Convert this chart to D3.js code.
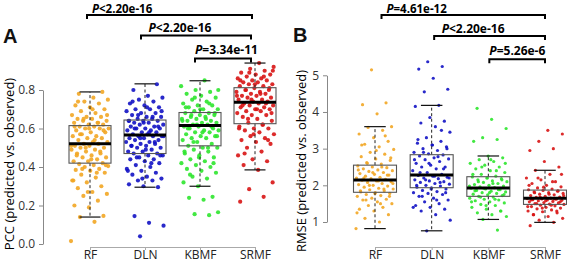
<!DOCTYPE html>
<html><head><meta charset="utf-8">
<script src="https://cdn.jsdelivr.net/npm/d3@7"></script>
<style>
html,body{margin:0;padding:0;background:#fff;}
svg{display:block;}
text{font-family:"Open Sans",sans-serif;}
</style></head>
<body>
<svg id="chart" width="567" height="262"></svg>
<script>
// ---------------- DATA ----------------
const categories = ["RF","DLN","KBMF","SRMF"];
const colors = ["#f2a623","#1212c4","#2ee62e","#d81414"];

const pccTicks = [0.0,0.2,0.4,0.6,0.8];
const rmseTicks = [1,2,3,4,5];

// box statistics
const pccQ1     = [0.420,0.470,0.510,0.625];
const pccMedian = [0.521,0.566,0.615,0.736];
const pccQ3     = [0.615,0.644,0.683,0.812];
const pccLow    = [0.140,0.295,0.300,0.385];
const pccHigh   = [0.790,0.832,0.848,0.940];

const rmseQ1     = [1.81,1.935,1.70,1.48];
const rmseMedian = [2.145,2.28,1.93,1.645];
const rmseQ3     = [2.55,2.835,2.235,1.87];
const rmseLow    = [0.82,0.76,1.07,0.99];
const rmseHigh   = [3.60,4.18,2.80,2.41];

// individual points
const pccRF = [0.015,0.115,0.14,0.146,0.19,0.2,0.225,0.25,0.26,0.27,0.29,0.3,0.32,0.33,0.345,0.36,0.37,0.38,0.385,0.39,0.40,0.405,0.41,0.415,
 0.42,0.43,0.43,0.44,0.45,0.45,0.46,0.47,0.47,0.48,0.49,0.49,0.50,0.50,0.51,0.51,0.52,0.52,
 0.53,0.53,0.54,0.55,0.55,0.56,0.56,0.57,0.58,0.58,0.59,0.60,0.60,0.60,0.61,0.61,0.62,
 0.62,0.63,0.63,0.64,0.64,0.65,0.65,0.66,0.66,0.67,0.68,0.69,0.70,0.71,0.72,0.73,0.74,0.75,0.76,0.78,0.79,
 0.27,0.33,0.37,0.39,0.41,0.44,0.46,0.48,0.50,0.51,0.54,0.57,0.59,0.60,0.61,0.63,0.65,0.67,0.70,0.74];
const pccDLN = [0.04,0.095,0.11,0.145,0.295,0.30,0.31,0.33,0.33,0.34,0.35,0.36,0.37,0.38,0.39,0.40,0.41,0.42,0.43,0.44,0.44,0.45,0.46,0.46,0.47,
 0.47,0.48,0.48,0.49,0.50,0.50,0.51,0.51,0.52,0.52,0.53,0.53,0.54,0.54,0.55,0.55,0.56,0.56,0.56,
 0.57,0.57,0.58,0.58,0.59,0.59,0.60,0.60,0.60,0.61,0.61,0.62,0.62,0.63,0.63,0.64,0.64,0.64,
 0.65,0.65,0.66,0.66,0.67,0.68,0.68,0.69,0.70,0.70,0.71,0.72,0.73,0.74,0.75,0.76,0.77,0.80,0.83,
 0.34,0.38,0.42,0.45,0.46,0.49,0.51,0.53,0.55,0.56,0.58,0.60,0.61,0.63,0.64,0.66,0.67,0.69,0.71,0.74];
const pccKBMF = [0.15,0.155,0.165,0.23,0.24,0.245,0.30,0.32,0.34,0.35,0.37,0.38,0.39,0.40,0.41,0.42,0.43,0.44,0.45,0.46,0.47,0.48,0.49,0.50,0.50,
 0.51,0.52,0.53,0.54,0.55,0.55,0.56,0.56,0.57,0.58,0.58,0.59,0.59,0.60,0.60,0.61,0.61,
 0.62,0.62,0.63,0.63,0.64,0.64,0.65,0.65,0.66,0.66,0.67,0.67,0.68,0.68,
 0.69,0.70,0.70,0.71,0.72,0.72,0.73,0.74,0.75,0.76,0.77,0.78,0.79,0.80,0.82,0.85,
 0.36,0.42,0.45,0.48,0.50,0.53,0.56,0.58,0.60,0.61,0.62,0.64,0.65,0.67,0.68,0.70,0.71,0.73,0.76,0.80];
const pccSRMF = [0.22,0.245,0.285,0.32,0.385,0.41,0.43,0.44,0.46,0.48,0.50,0.52,0.53,0.54,0.55,0.56,0.57,0.58,0.59,0.60,0.60,0.61,0.62,
 0.63,0.64,0.65,0.66,0.67,0.67,0.68,0.69,0.69,0.70,0.70,0.71,0.71,0.72,0.72,0.73,0.73,
 0.74,0.74,0.75,0.75,0.76,0.76,0.77,0.77,0.78,0.78,0.79,0.79,0.80,0.80,0.81,
 0.82,0.82,0.83,0.83,0.84,0.84,0.85,0.85,0.86,0.86,0.87,0.88,0.88,0.89,0.90,0.91,0.92,0.94,
 0.47,0.54,0.57,0.60,0.62,0.65,0.68,0.70,0.72,0.73,0.75,0.77,0.78,0.80,0.81,0.83,0.85,0.87,0.89,0.90];

const rmseRF = [0.82,1.0,1.1,1.2,1.3,1.35,1.4,1.45,1.5,1.55,1.6,1.62,1.65,1.7,1.72,1.75,1.78,1.8,
 1.82,1.85,1.88,1.9,1.92,1.95,1.98,2.0,2.02,2.05,2.08,2.1,2.12,2.14,
 2.16,2.18,2.2,2.22,2.25,2.28,2.3,2.32,2.35,2.38,2.4,2.42,2.45,2.48,2.5,2.53,
 2.58,2.62,2.68,2.72,2.78,2.85,2.9,2.98,3.05,3.12,3.2,3.3,3.4,3.5,3.58,3.6,3.95,4.2,4.25,5.15,
 1.25,1.5,1.6,1.7,1.78,1.85,1.9,2.0,2.05,2.12,2.2,2.28,2.35,2.42,2.5,2.6,2.75,2.95,3.1,3.35];
const rmseDLN = [0.76,1.05,1.2,1.3,1.35,1.4,1.45,1.5,1.55,1.6,1.65,1.7,1.75,1.78,1.8,1.83,1.86,1.9,1.93,
 1.95,1.98,2.0,2.03,2.05,2.08,2.1,2.12,2.15,2.18,2.2,2.22,2.25,2.27,
 2.3,2.35,2.4,2.45,2.5,2.5,2.55,2.6,2.65,2.7,2.72,2.75,2.8,2.83,
 2.86,2.9,2.95,3.0,3.05,3.1,3.15,3.2,3.3,3.45,3.6,3.7,3.75,3.85,4.15,4.18,4.55,4.62,4.92,5.17,5.24,5.37,
 1.4,1.6,1.7,1.8,1.9,2.0,2.08,2.15,2.2,2.25,2.35,2.45,2.6,2.7,2.78,2.9,3.0,3.1,3.25,3.5];
const rmseKBMF = [0.78,1.07,1.15,1.2,1.25,1.3,1.35,1.4,1.45,1.48,1.52,1.55,1.58,1.6,1.62,1.65,1.68,
 1.7,1.72,1.74,1.76,1.78,1.8,1.82,1.84,1.86,1.88,1.9,1.92,
 1.94,1.96,1.98,2.0,2.02,2.05,2.08,2.1,2.12,2.15,2.18,2.2,2.23,
 2.25,2.3,2.35,2.4,2.45,2.5,2.55,2.6,2.65,2.7,2.75,2.8,3.2,3.25,3.3,3.55,3.8,4.1,
 1.3,1.45,1.55,1.62,1.68,1.75,1.8,1.85,1.88,1.92,1.98,2.05,2.1,2.15,2.2,2.3,2.4,2.5,2.6,2.7];
const rmseSRMF = [0.9,0.99,1.05,1.1,1.15,1.2,1.25,1.28,1.3,1.33,1.36,1.38,1.4,1.42,1.44,1.46,1.48,
 1.49,1.5,1.52,1.53,1.55,1.56,1.58,1.59,1.6,1.61,1.62,1.63,1.64,
 1.65,1.67,1.68,1.7,1.72,1.74,1.76,1.78,1.8,1.82,1.84,1.86,
 1.88,1.9,1.93,1.96,2.0,2.05,2.1,2.15,2.2,2.3,2.41,2.5,2.65,2.95,3.0,3.2,3.4,3.5,
 1.2,1.3,1.38,1.42,1.46,1.5,1.55,1.58,1.6,1.63,1.68,1.72,1.76,1.8,1.85,1.95,2.0,2.1,2.2,2.3];

// significance comparisons
const pccPairs  = [["RF","SRMF"],["DLN","SRMF"],["KBMF","SRMF"]];
const pccPText  = ["<2.20e-16","<2.20e-16","=3.34e-11"];
const rmsePairs = [["RF","SRMF"],["DLN","SRMF"],["KBMF","SRMF"]];
const rmsePText = ["=4.61e-12","<2.20e-16","=5.26e-6"];

// ---------------- DRAW ----------------
const svg = d3.select("#chart");

function panel(cfg){
  const g = svg.append("g");
  const x = d3.scalePoint().domain(categories).range(cfg.xRange);
  const y = d3.scaleLinear().domain(cfg.yDomain).range(cfg.yRange);
  const boxW = cfg.boxW;

  // y axis
  const ya = g.append("g").attr("transform",`translate(${cfg.yAxisX},0)`)
    .call(d3.axisLeft(y).tickValues(cfg.ticks).tickFormat(cfg.fmt).tickSize(4).tickSizeOuter(0).tickPadding(4));
  ya.select(".domain").attr("stroke","#888");
  ya.selectAll(".tick line").attr("stroke","#888");
  ya.selectAll(".tick text").attr("fill","#333").style("font-size","12px").style("font-family","Open Sans");

  // x axis
  const xa = g.append("g").attr("transform",`translate(0,${cfg.xAxisY})`)
    .call(d3.axisBottom(x).tickSize(3).tickSizeOuter(0).tickPadding(0));
  xa.select(".domain").attr("stroke","#aaa");
  xa.selectAll(".tick line").attr("stroke","#aaa");
  xa.selectAll(".tick text").attr("fill","#222").style("font-size","12px").style("font-family","Open Sans");

  // y title
  g.append("text").attr("transform",`translate(${cfg.titleX},${cfg.titleY}) rotate(-90)`)
    .attr("text-anchor","middle").style("font-size","13px").attr("fill","#000")
    .text(cfg.title);

  // panel letter
  g.append("text").attr("x",cfg.letterX).attr("y",cfg.letterY)
    .style("font-family","Liberation Sans, Arial, sans-serif").style("font-weight","bold")
    .style("font-size","20px").attr("fill","#111").text(cfg.letter);

  // points
  cfg.points.forEach((vals,ci)=>{
    const cx = x(categories[ci]);
    g.append("g").selectAll("circle").data(vals).join("circle")
      .attr("cx",(d,i)=> cx + (((i*0.6180339887+ci*0.37)%1)-0.5)*2*cfg.jitter)
      .attr("cy",d=>y(d)).attr("r",cfg.r)
      .attr("fill",colors[ci]).attr("fill-opacity",0.9);
  });

  // boxes
  categories.forEach((c,i)=>{
    const cx = x(c);
    const bg = g.append("g");
    bg.append("line").attr("x1",cx).attr("x2",cx).attr("y1",y(cfg.q3[i])).attr("y2",y(cfg.high[i]))
      .attr("stroke","#222").attr("stroke-dasharray","3,2.5");
    bg.append("line").attr("x1",cx).attr("x2",cx).attr("y1",y(cfg.q1[i])).attr("y2",y(cfg.low[i]))
      .attr("stroke","#222").attr("stroke-dasharray","3,2.5");
    [cfg.high[i],cfg.low[i]].forEach(v=>{
      bg.append("line").attr("x1",cx-boxW/4).attr("x2",cx+boxW/4).attr("y1",y(v)).attr("y2",y(v))
        .attr("stroke","#111").attr("stroke-width",1.2);
    });
    bg.append("rect").attr("x",cx-boxW/2).attr("width",boxW)
      .attr("y",y(cfg.q3[i])).attr("height",y(cfg.q1[i])-y(cfg.q3[i]))
      .attr("fill","none").attr("stroke","#555").attr("stroke-width",1.1);
    bg.append("line").attr("x1",cx-boxW/2).attr("x2",cx+boxW/2)
      .attr("y1",y(cfg.med[i])).attr("y2",y(cfg.med[i]))
      .attr("stroke","#000").attr("stroke-width",3);
  });

  // brackets
  cfg.pairs.forEach((p,k)=>{
    const x1 = x(p[0])+cfg.brOff[k][0], x2 = x(p[1])+cfg.brOff[k][1];
    const yb = cfg.brY[k];
    g.append("path").attr("d",`M${x1},${yb+4}V${yb}H${x2}V${yb+4}`)
      .attr("fill","none").attr("stroke","#000").attr("stroke-width",2);
    const t = g.append("text").attr("x",x1+cfg.txtOff[k]).attr("y",cfg.txtY[k])
      .style("font-size",cfg.txtSize[k]+"px").style("font-weight","bold").attr("fill","#000");
    t.append("tspan").style("font-style","italic").text("P");
    t.append("tspan").text(cfg.ptext[k]);
  });
}

panel({
  xRange:[90,255], yDomain:[0,0.8], yRange:[244,90], boxW:42, jitter:19, r:2.1,
  yAxisX:43, xAxisY:247, ticks:pccTicks, fmt:d3.format(".1f"),
  title:"PCC (predicted vs. observed)", titleX:14, titleY:164,
  letter:"A", letterX:3, letterY:43,
  points:[pccRF,pccDLN,pccKBMF,pccSRMF],
  q1:pccQ1, med:pccMedian, q3:pccQ3, low:pccLow, high:pccHigh,
  pairs:pccPairs, ptext:pccPText,
  brOff:[[-3,-3],[-4,-4],[-5,-4]], brY:[15,35.5,58.5], txtOff:[5,7.5,0],
  txtY:[12.5,31.5,53.5], txtSize:[11.5,12,12]
});

panel({
  xRange:[375,545], yDomain:[1,5], yRange:[222,75.3], boxW:43, jitter:19, r:1.6,
  yAxisX:327, xAxisY:247, ticks:rmseTicks, fmt:d3.format("d"),
  title:"RMSE (predicted vs. observed)", titleX:306, titleY:161,
  letter:"B", letterX:293, letterY:42,
  points:[rmseRF,rmseDLN,rmseKBMF,rmseSRMF],
  q1:rmseQ1, med:rmseMedian, q3:rmseQ3, low:rmseLow, high:rmseHigh,
  pairs:rmsePairs, ptext:rmsePText,
  brOff:[[6.5,0],[2.5,0],[1,0]], brY:[15,36,59.3], txtOff:[5,7.5,0],
  txtY:[12.5,32.5,55], txtSize:[11.5,12,12]
});
</script>
</body></html>
